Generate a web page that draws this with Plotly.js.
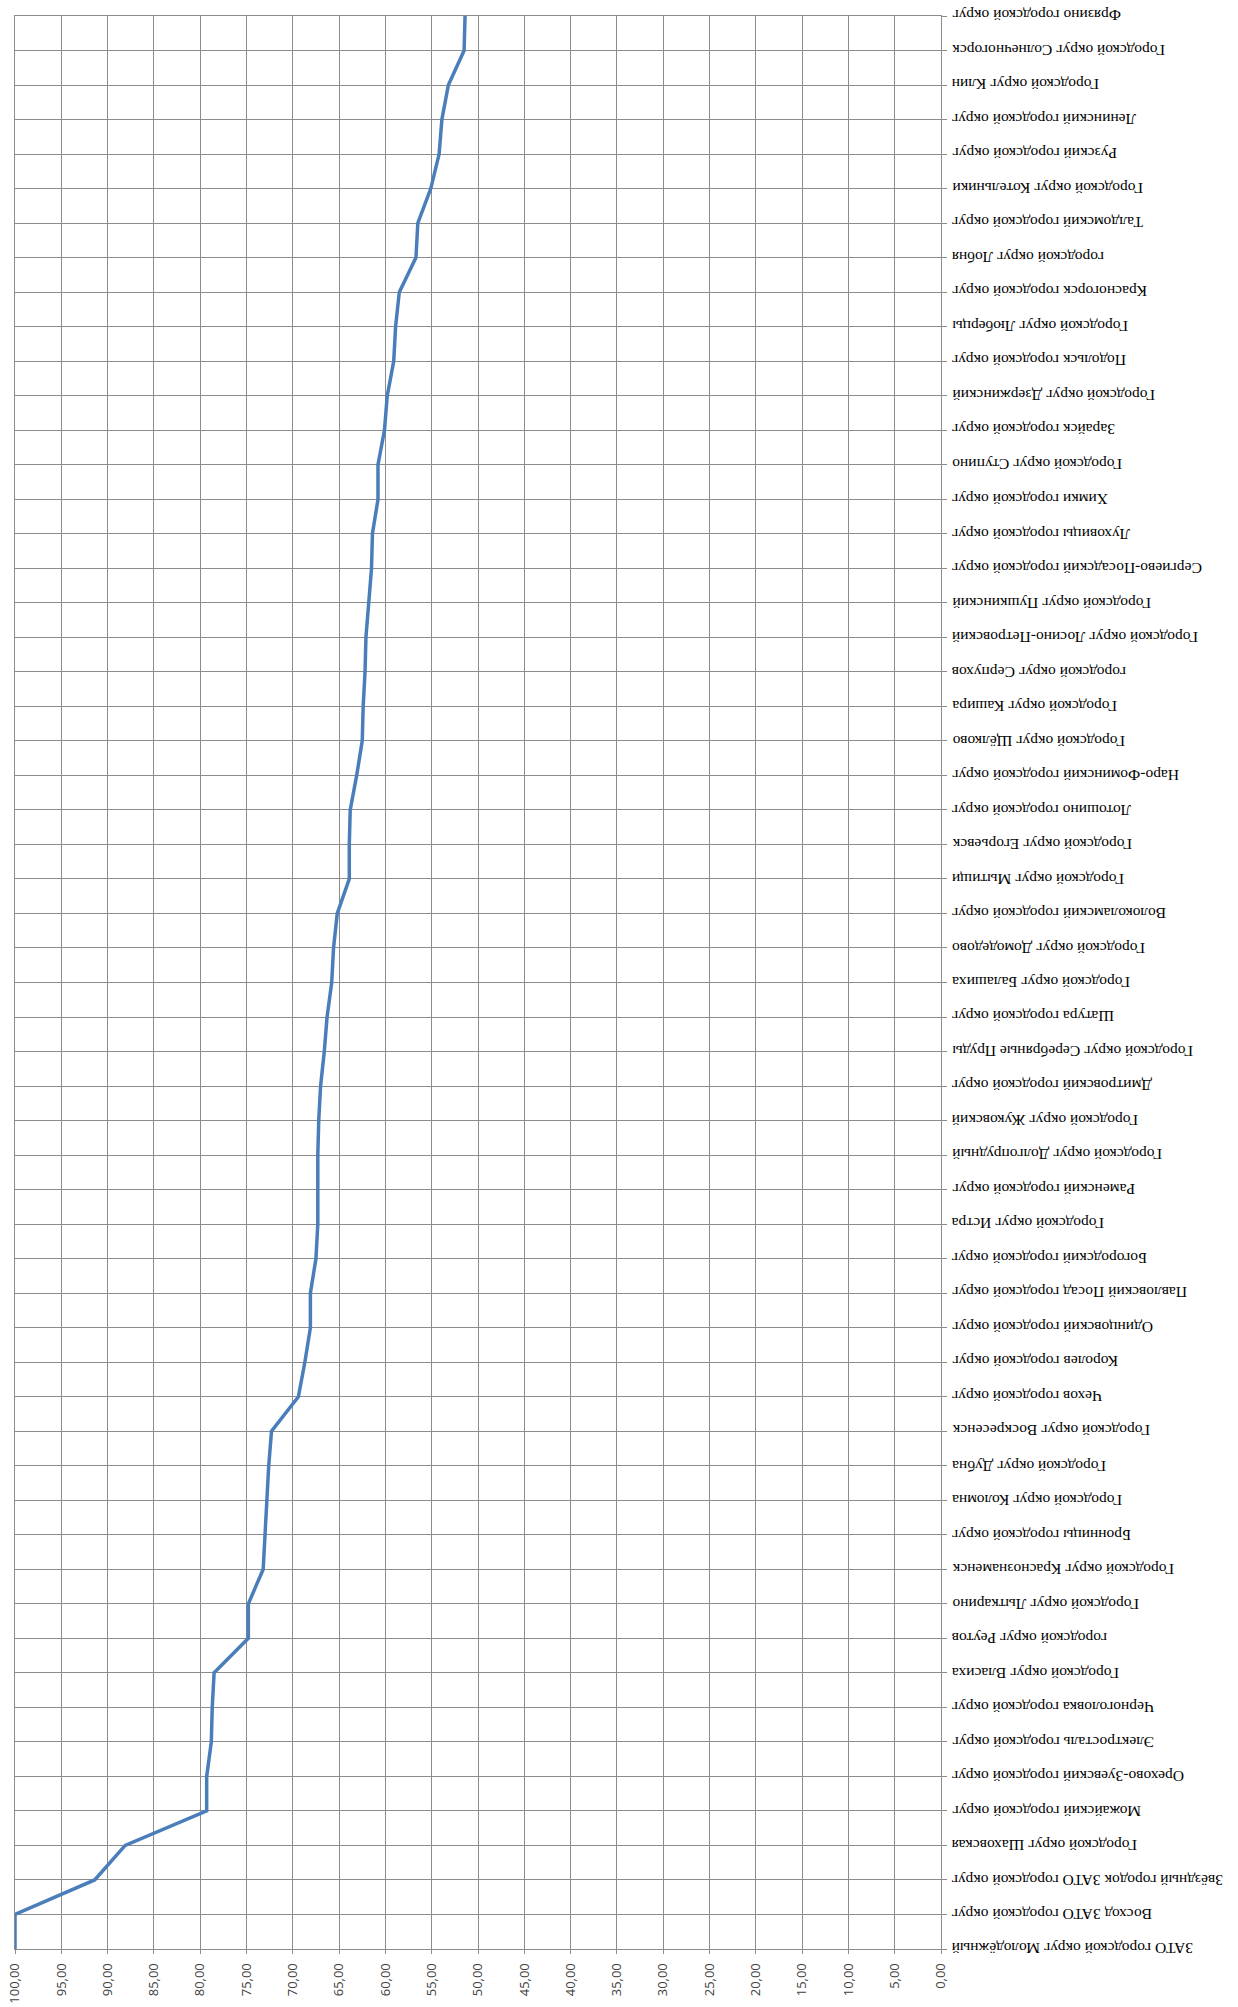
<!DOCTYPE html>
<html><head><meta charset="utf-8">
<script src="https://cdn.plot.ly/plotly-3.0.1.min.js"></script>
<style>html,body{margin:0;padding:0;background:#fff}</style>
</head><body><div id="chart" style="width:1238px;height:2007px"></div>
<script>
const districts = [
"ЗАТО городской округ Молодёжный",
"Восход ЗАТО городской округ",
"Звёздный городок ЗАТО городской округ",
"Городской округ Шаховская",
"Можайский городской округ",
"Орехово-Зуевский городской округ",
"Электросталь городской округ",
"Черноголовка городской округ",
"Городской округ Власиха",
"городской округ Реутов",
"Городской округ Лыткарино",
"Городской округ Краснознаменск",
"Бронницы городской округ",
"Городской округ Коломна",
"Городской округ Дубна",
"Городской округ Воскресенск",
"Чехов городской округ",
"Королев городской округ",
"Одинцовский городской округ",
"Павловский Посад городской округ",
"Богородский городской округ",
"Городской округ Истра",
"Раменский городской округ",
"Городской округ Долгопрудный",
"Городской округ Жуковский",
"Дмитровский городской округ",
"Городской округ Серебряные Пруды",
"Шатура городской округ",
"Городской округ Балашиха",
"Городской округ Домодедово",
"Волоколамский городской округ",
"Городской округ Мытищи",
"Городской округ Егорьевск",
"Лотошино городской округ",
"Наро-Фоминский городской округ",
"Городской округ Щёлково",
"Городской округ Кашира",
"городской округ Серпухов",
"Городской округ Лосино-Петровский",
"Городской округ Пушкинский",
"Сергиево-Посадский городской округ",
"Луховицы городской округ",
"Химки городской округ",
"Городской округ Ступино",
"Зарайск городской округ",
"Городской округ Дзержинский",
"Подольск городской округ",
"Городской округ Люберцы",
"Красногорск городской округ",
"городской округ Лобня",
"Талдомский городской округ",
"Городской округ Котельники",
"Рузский городской округ",
"Ленинский городской округ",
"Городской округ Клин",
"Городской округ Солнечногорск",
"Фрязино городской округ"
];
const values = [
100.0, 100.0, 91.4, 88.1, 79.3, 79.3, 78.8, 78.7, 78.5, 74.8,
74.8, 73.2, 73.0, 72.8, 72.6, 72.3, 69.4, 68.7, 68.1, 68.1,
67.5, 67.3, 67.3, 67.3, 67.2, 67.0, 66.6, 66.3, 65.8, 65.6,
65.2, 63.9, 63.9, 63.8, 63.1, 62.5, 62.4, 62.2, 62.1, 61.8,
61.5, 61.4, 60.8, 60.8, 60.1, 59.8, 59.1, 58.9, 58.5, 56.7,
56.5, 55.1, 54.2, 53.9, 53.2, 51.5, 51.4
];
const xTickValues = [0,5,10,15,20,25,30,35,40,45,50,55,60,65,70,75,80,85,90,95,100];

const gridColor = '#8c8c8c';
const trace = {
  type: 'scatter', mode: 'lines',
  x: values, y: districts,
  line: {color: '#4a7ebb', width: 3.5},
  hoverinfo: 'x+y'
};
const annotations = districts.map(d => ({
  x: 1, xref: 'paper', y: d, yref: 'y',
  xshift: 9, xanchor: 'left', yanchor: 'middle',
  text: d, textangle: 180, showarrow: false,
  font: {family: 'Liberation Serif, Times New Roman, serif', size: 15.5, color: '#000'}
}));
const layout = {
  width: 1238, height: 2007,
  margin: {l: 15, r: 297, t: 16, b: 58},
  paper_bgcolor: '#fff', plot_bgcolor: '#fff',
  separators: ', ',
  showlegend: false,
  xaxis: {
    range: [100, 0], autorange: false,
    tickvals: xTickValues, tickformat: '.2f',
    tickangle: -90,
    ticks: 'outside', ticklen: 4, tickcolor: gridColor, tickwidth: 1,
    showgrid: true, gridcolor: gridColor, gridwidth: 1,
    showline: true, linecolor: gridColor, linewidth: 1, mirror: true,
    zeroline: false,
    tickfont: {family: 'Open Sans, sans-serif', size: 13, color: '#404040'},
    ticklabelstandoff: 4,
    automargin: false
  },
  yaxis: {
    type: 'category', categoryorder: 'array', categoryarray: districts,
    range: [0, districts.length - 1], autorange: false,
    side: 'right',
    showticklabels: false,
    ticks: 'outside', ticklen: 5, tickcolor: gridColor, tickwidth: 1,
    showgrid: true, gridcolor: gridColor, gridwidth: 1,
    showline: true, linecolor: gridColor, linewidth: 1, mirror: true,
    zeroline: false,
    automargin: false
  },
  annotations: annotations
};
Plotly.newPlot('chart', [trace], layout, {displayModeBar: false, staticPlot: true});
</script>
</body></html>
